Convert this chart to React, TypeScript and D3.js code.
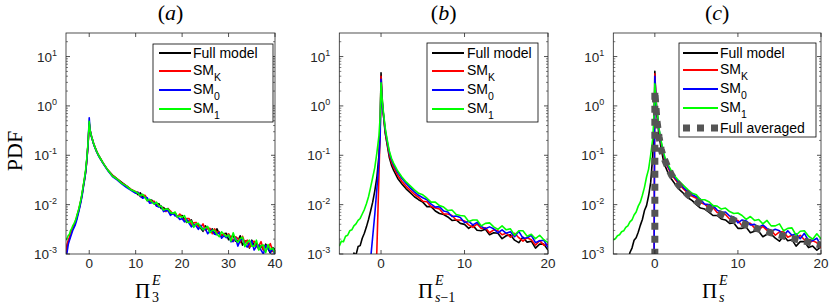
import React from "react";
import * as d3 from "d3";

// ---------------- data (PDF values stored as log10(PDF)) ----------------
const Y_TICK_VALUES = [1e-3, 1e-2, 1e-1, 1, 10];
const Y_TICK_EXPONENTS = ["-3", "-2", "-1", "0", "1"];
const X_TICKS_A = [0, 10, 20, 30, 40];
const X_TICKS_BC = [0, 10, 20];
const PANEL_TITLES = ["a", "b", "c"];
const LEGEND_MAIN = ["Full model", "SM", "SM", "SM", "Full averaged"];
const LEGEND_SUB = ["", "K", "0", "1", ""];

const X_A = [
  -5, -4.75, -4.5, -4.25, -4, -3.75, -3.5, -3.25, -3, -2.75, -2.5, -2.25, -2, -1.75, -1.5, -1.25, -1, -0.75, -0.5, -0.25, 0,
  0.15, 0.3, 0.5, 0.75, 1, 1.5, 2, 2.5, 3, 3.5, 4,
  5, 6, 7, 8, 9, 10,
  10.5, 11, 11.5, 12, 12.5, 13, 13.5, 14, 14.5, 15, 15.5, 16, 16.5, 17, 17.5, 18, 18.5, 19, 19.5, 20,
  20.5, 21, 21.5, 22, 22.5, 23, 23.5, 24, 24.5, 25, 25.5, 26, 26.5, 27, 27.5, 28, 28.5, 29, 29.5, 30,
  30.5, 31, 31.5, 32, 32.5, 33, 33.5, 34, 34.5, 35, 35.5, 36, 36.5, 37, 37.5, 38, 38.5, 39, 39.5, 40,
];
const A_FULL = [
  -3.02, -2.84, -2.74, -2.69, -2.6, -2.54, -2.47, -2.43, -2.36, -2.3, -2.2, -2.12, -2.01, -1.9, -1.77, -1.61, -1.47, -1.31, -1.07, -0.77, -0.35,
  -0.46, -0.55, -0.62, -0.7, -0.78, -0.9, -1.0, -1.08, -1.16, -1.23, -1.3,
  -1.4, -1.48, -1.55, -1.62, -1.69, -1.75,
  -1.8, -1.76, -1.84, -1.83, -1.92, -1.9, -1.91, -1.98, -2.0, -1.98, -2.08, -2.06, -2.1, -2.08, -2.17, -2.18, -2.17, -2.26, -2.22, -2.22,
  -2.3, -2.36, -2.33, -2.31, -2.44, -2.4, -2.4, -2.48, -2.54, -2.43, -2.48, -2.54, -2.49, -2.6, -2.49, -2.59, -2.64, -2.59, -2.58, -2.71,
  -2.66, -2.62, -2.74, -2.74, -2.63, -2.82, -2.74, -2.73, -2.88, -2.72, -2.83, -2.79, -2.9, -2.83, -2.91, -2.8, -2.89, -2.98, -2.87, -2.91,
];
const A_SMK = [
  -2.98, -2.8, -2.73, -2.66, -2.59, -2.52, -2.46, -2.41, -2.34, -2.27, -2.18, -2.1, -2.0, -1.9, -1.77, -1.62, -1.49, -1.33, -1.09, -0.78, -0.36,
  -0.46, -0.55, -0.62, -0.7, -0.78, -0.9, -1.0, -1.08, -1.16, -1.23, -1.3,
  -1.41, -1.48, -1.56, -1.62, -1.69, -1.74,
  -1.75, -1.84, -1.81, -1.81, -1.89, -1.94, -1.93, -1.93, -2.03, -2.02, -2.03, -2.09, -2.14, -2.09, -2.13, -2.19, -2.17, -2.25, -2.19, -2.27,
  -2.32, -2.28, -2.28, -2.42, -2.37, -2.36, -2.45, -2.46, -2.39, -2.52, -2.48, -2.48, -2.59, -2.49, -2.57, -2.55, -2.63, -2.59, -2.65, -2.59,
  -2.66, -2.75, -2.65, -2.69, -2.77, -2.64, -2.77, -2.72, -2.86, -2.77, -2.74, -2.85, -2.84, -2.75, -2.92, -2.83, -2.88, -2.79, -2.95, -2.94,
];
const A_SM0 = [
  -3.1, -2.95, -2.8, -2.72, -2.65, -2.58, -2.51, -2.46, -2.41, -2.33, -2.24, -2.14, -2.04, -1.93, -1.8, -1.64, -1.5, -1.33, -1.08, -0.78, -0.24,
  -0.45, -0.55, -0.63, -0.71, -0.79, -0.91, -1.01, -1.09, -1.17, -1.24, -1.31,
  -1.43, -1.5, -1.58, -1.65, -1.71, -1.77,
  -1.75, -1.83, -1.87, -1.85, -1.86, -1.97, -1.96, -1.96, -2.03, -2.05, -2.03, -2.14, -2.12, -2.13, -2.22, -2.17, -2.23, -2.23, -2.3, -2.28,
  -2.35, -2.3, -2.38, -2.45, -2.4, -2.43, -2.5, -2.42, -2.51, -2.48, -2.59, -2.53, -2.52, -2.6, -2.61, -2.56, -2.68, -2.63, -2.67, -2.61,
  -2.75, -2.74, -2.67, -2.84, -2.72, -2.69, -2.8, -2.86, -2.79, -2.74, -2.92, -2.84, -2.82, -2.92, -3.0, -2.83, -2.89, -2.96, -2.89, -3.02,
];
const A_SM1 = [
  -2.72, -2.68, -2.62, -2.6, -2.52, -2.48, -2.42, -2.38, -2.33, -2.25, -2.17, -2.09, -1.98, -1.88, -1.74, -1.6, -1.45, -1.28, -1.04, -0.74, -0.31,
  -0.47, -0.55, -0.62, -0.7, -0.78, -0.9, -1.0, -1.08, -1.16, -1.23, -1.3,
  -1.42, -1.48, -1.57, -1.62, -1.7, -1.74,
  -1.77, -1.82, -1.79, -1.85, -1.92, -1.89, -1.94, -1.99, -1.95, -2.03, -2.03, -2.11, -2.09, -2.09, -2.16, -2.18, -2.15, -2.25, -2.23, -2.26,
  -2.22, -2.35, -2.36, -2.33, -2.46, -2.39, -2.38, -2.46, -2.51, -2.47, -2.44, -2.57, -2.52, -2.52, -2.6, -2.65, -2.55, -2.6, -2.65, -2.61,
  -2.74, -2.57, -2.71, -2.76, -2.69, -2.66, -2.85, -2.76, -2.72, -2.84, -2.84, -2.72, -2.92, -2.83, -2.82, -2.97, -2.81, -2.91, -2.88, -2.98,
];

const X_BC = [
  -5, -4.75, -4.5, -4.25, -4, -3.75, -3.5, -3.25, -3, -2.75, -2.5, -2.25, -2, -1.75, -1.5, -1.25, -1, -0.75, -0.5, -0.25, -0.1, 0,
  0.1, 0.2, 0.35, 0.5, 0.75, 1, 1.25, 1.5, 2, 2.5, 3, 3.5, 4, 4.5,
  5, 5.5, 6, 6.5, 7, 7.5, 8, 8.5, 9, 9.5, 10, 10.5, 11, 11.5, 12, 12.5, 13, 13.5, 14, 14.5, 15, 15.5, 16, 16.5, 17, 17.5, 18, 18.5, 19, 19.5, 20,
];
const N = null;
const B_FULL = [
  N, N, N, N, N, N, -3.2, -2.98, -3.02, -2.85, -2.83, -2.68, -2.58, -2.45, -2.3, -2.13, -1.95, -1.72, -1.45, -1.0, -0.45, 0.67,
  0.25, 0.0, -0.3, -0.55, -0.8, -1.05, -1.2, -1.3, -1.47, -1.58, -1.68, -1.76, -1.84, -1.9,
  -1.95, -2.04, -2.04, -2.13, -2.18, -2.2, -2.25, -2.32, -2.31, -2.38, -2.4, -2.48, -2.42, -2.52, -2.53, -2.5, -2.61, -2.57, -2.58, -2.69,
  -2.63, -2.61, -2.72, -2.77, -2.66, -2.76, -2.74, -2.88, -2.8, -2.8, -2.92,
];
const B_SMK = [
  N, N, N, N, N, N, N, N, N, N, N, N, N, N, N, N, N, -4.0, -2.92, -1.4, -0.45, 0.6,
  0.2, -0.08, -0.28, -0.52, -0.77, -1.0, -1.14, -1.24, -1.41, -1.53, -1.63, -1.71, -1.79, -1.85,
  -1.93, -1.94, -2.04, -2.07, -2.09, -2.19, -2.19, -2.22, -2.31, -2.31, -2.33, -2.41, -2.46, -2.39, -2.48, -2.47, -2.57, -2.51, -2.53, -2.61,
  -2.58, -2.66, -2.58, -2.67, -2.74, -2.67, -2.71, -2.82, -2.73, -2.82, -2.8,
];
const B_SM0 = [
  N, N, N, N, N, N, N, N, N, N, N, N, N, N, -3.6, -3.1, -2.65, -2.2, -1.68, -1.1, -0.6, 0.54,
  0.15, -0.05, -0.25, -0.48, -0.73, -0.95, -1.09, -1.19, -1.35, -1.47, -1.57, -1.66, -1.74, -1.81,
  -1.86, -1.9, -1.99, -2.05, -2.04, -2.13, -2.15, -2.24, -2.23, -2.26, -2.36, -2.34, -2.41, -2.36, -2.44, -2.49, -2.45, -2.49, -2.57, -2.51,
  -2.58, -2.55, -2.65, -2.54, -2.68, -2.67, -2.62, -2.77, -2.73, -2.72, -2.87,
];
const B_SM1 = [
  -2.84, -2.74, -2.75, -2.64, -2.62, -2.53, -2.51, -2.43, -2.39, -2.32, -2.28, -2.19, -2.1, -1.98, -1.84, -1.65, -1.45, -1.25, -0.95, -0.6, -0.2, 0.47,
  0.2, 0.0, -0.22, -0.45, -0.7, -0.92, -1.06, -1.16, -1.32, -1.44, -1.54, -1.62, -1.7, -1.77,
  -1.8, -1.87, -1.95, -1.95, -2.02, -2.05, -2.12, -2.11, -2.2, -2.22, -2.23, -2.34, -2.31, -2.31, -2.43, -2.38, -2.37, -2.45, -2.5, -2.43,
  -2.51, -2.49, -2.62, -2.53, -2.53, -2.64, -2.6, -2.69, -2.62, -2.71, -2.77,
];

const C_FULL = [
  N, N, N, N, N, N, N, -3.15, -2.97, -2.88, -2.72, -2.67, -2.56, -2.42, -2.3, -2.12, -2.02, -1.82, -1.55, -1.0, -0.4, 0.7,
  0.2, -0.1, -0.35, -0.6, -0.85, -1.08, -1.22, -1.32, -1.48, -1.6, -1.7, -1.78, -1.86, -1.92,
  -2.0, -2.07, -2.09, -2.15, -2.22, -2.22, -2.29, -2.31, -2.38, -2.37, -2.48, -2.48, -2.46, -2.57, -2.54, -2.54, -2.65, -2.6, -2.6, -2.68,
  -2.74, -2.63, -2.73, -2.71, -2.84, -2.75, -2.75, -2.87, -2.84, -2.92, -2.85,
];
const C_SMK = [
  N, N, N, N, N, N, N, N, N, N, N, N, N, N, N, N, N, N, N, N, -3.4, 0.65,
  0.3, 0.0, -0.25, -0.5, -0.76, -0.98, -1.12, -1.22, -1.39, -1.5, -1.6, -1.69, -1.77, -1.83,
  -1.87, -1.96, -1.99, -2.07, -2.06, -2.16, -2.18, -2.2, -2.29, -2.29, -2.32, -2.43, -2.39, -2.38, -2.47, -2.51, -2.44, -2.52, -2.52, -2.62,
  -2.55, -2.55, -2.66, -2.62, -2.7, -2.62, -2.71, -2.79, -2.73, -2.77, -2.88,
];
const C_SM0 = [
  N, N, N, N, N, N, N, N, N, N, N, N, N, N, N, N, N, N, N, N, -3.5, 0.6,
  0.25, -0.02, -0.24, -0.47, -0.73, -0.95, -1.09, -1.19, -1.36, -1.47, -1.57, -1.66, -1.74, -1.8,
  -1.84, -1.89, -1.99, -2.0, -2.02, -2.11, -2.16, -2.15, -2.23, -2.25, -2.37, -2.31, -2.33, -2.41, -2.4, -2.46, -2.41, -2.48, -2.54, -2.5,
  -2.53, -2.63, -2.53, -2.62, -2.59, -2.69, -2.58, -2.73, -2.73, -2.68, -2.83,
];
const C_SM1 = [
  -2.72, -2.69, -2.63, -2.61, -2.55, -2.53, -2.46, -2.43, -2.35, -2.31, -2.21, -2.15, -2.03, -1.95, -1.81, -1.65, -1.44, -1.28, -0.99, -0.66, -0.2, 0.45,
  0.2, 0.0, -0.22, -0.45, -0.7, -0.92, -1.06, -1.16, -1.32, -1.44, -1.54, -1.62, -1.7, -1.77,
  -1.8, -1.9, -1.9, -1.94, -2.02, -2.03, -2.09, -2.07, -2.14, -2.18, -2.17, -2.22, -2.3, -2.24, -2.32, -2.3, -2.39, -2.32, -2.43, -2.43,
  -2.39, -2.53, -2.48, -2.47, -2.62, -2.54, -2.53, -2.64, -2.7, -2.59, -2.69,
];
const C_AVG_X = [0, 0, 0.25, 0.5, 0.75, 1, 1.5, 2, 2.5, 3, 4, 5, 6, 7, 8, 9, 10, 12, 14, 16, 18, 20];
const C_AVG = [-3.3, 0.3, -0.3, -0.62, -0.87, -1.02, -1.22, -1.4, -1.52, -1.63, -1.8, -1.93, -2.03, -2.12, -2.2, -2.28, -2.35, -2.47, -2.57, -2.66, -2.74, -2.82];

// ---------------- styles / layout ----------------
const COLORS = ["#000000", "#ff0000", "#0000ff", "#00ff00"];
const AVG_COLOR = "#555555";
const AXIS_COLOR = "#262626";
const SANS = "'Liberation Sans', Arial, Helvetica, sans-serif";
const SERIF = "'Liberation Serif', 'Times New Roman', serif";
const TOP = 33;
const BOTTOM = 254;

type PanelProps = {
  id: string;
  left: number;
  right: number;
  xDomain: [number, number];
  xTicks: number[];
  xs: number[];
  series: (number | null)[][];
  avg?: boolean;
  title: string;
  legend: { x: number; y: number; w: number; h: number; s1: number; s2: number; tx: number; rows: number[] };
  labelX: number;
  sub: React.ReactNode;
};

function Panel(p: PanelProps) {
  const x = d3.scaleLinear().domain(p.xDomain).range([p.left, p.right]);
  const y = d3.scaleLog().domain([1e-3, 30]).range([BOTTOM, TOP]);
  const line = d3
    .line<number | null>()
    .defined((v) => v !== null)
    .x((_, i) => x(p.xs[i]))
    .y((v) => y(Math.pow(10, v as number)));
  const avgLine = d3
    .line<number>()
    .x((_, i) => x(C_AVG_X[i]))
    .y((v) => y(Math.pow(10, v)));

  const minor: number[] = [];
  for (let d = -3; d <= 1; d++) {
    for (let k = 2; k <= 9; k++) {
      const v = k * Math.pow(10, d);
      if (v < 30) minor.push(v);
    }
  }
  const cx = (p.left + p.right) / 2;
  const L = p.legend;
  const nRows = p.avg ? 5 : 4;

  return (
    <g>
      <defs>
        <clipPath id={p.id}>
          <rect x={p.left} y={TOP} width={p.right - p.left} height={BOTTOM - TOP} />
        </clipPath>
      </defs>
      <g clipPath={`url(#${p.id})`}>
        {p.series.map((s, i) => (
          <path key={i} d={line(s) || ""} fill="none" stroke={COLORS[i]} strokeWidth={1.6} strokeLinejoin="round" />
        ))}
        {p.avg && (
          <path d={avgLine(C_AVG) || ""} fill="none" stroke={AVG_COLOR} strokeWidth={7} strokeDasharray="7 6" />
        )}
      </g>
      <rect x={p.left} y={TOP} width={p.right - p.left} height={BOTTOM - TOP} fill="none" stroke={AXIS_COLOR} strokeWidth={0.8} />
      {p.xTicks.map((t) => (
        <g key={t}>
          <line x1={x(t)} x2={x(t)} y1={BOTTOM} y2={BOTTOM - 4} stroke={AXIS_COLOR} strokeWidth={0.8} />
          <line x1={x(t)} x2={x(t)} y1={TOP} y2={TOP + 4} stroke={AXIS_COLOR} strokeWidth={0.8} />
          <text x={x(t)} y={BOTTOM + 14} textAnchor="middle" fontFamily={SANS} fontSize={13.5} fill={AXIS_COLOR}>
            {t}
          </text>
        </g>
      ))}
      {Y_TICK_VALUES.map((t, i) => (
        <g key={t}>
          <line x1={p.left} x2={p.left + 4} y1={y(t)} y2={y(t)} stroke={AXIS_COLOR} strokeWidth={0.8} />
          <line x1={p.right} x2={p.right - 4} y1={y(t)} y2={y(t)} stroke={AXIS_COLOR} strokeWidth={0.8} />
          <text x={p.left - 9} y={y(t) + 5} textAnchor="end" fontFamily={SANS} fontSize={13.5} fill={AXIS_COLOR}>
            10
            <tspan dy={-6} fontSize={9}>
              {Y_TICK_EXPONENTS[i]}
            </tspan>
          </text>
        </g>
      ))}
      {minor.map((t) => (
        <g key={"m" + t}>
          <line x1={p.left} x2={p.left + 2} y1={y(t)} y2={y(t)} stroke={AXIS_COLOR} strokeWidth={0.6} />
          <line x1={p.right} x2={p.right - 2} y1={y(t)} y2={y(t)} stroke={AXIS_COLOR} strokeWidth={0.6} />
        </g>
      ))}
      <text x={cx} y={20} textAnchor="middle" fontFamily={SERIF} fontSize={22} fill="#000">
        (<tspan fontStyle="italic">{p.title}</tspan>)
      </text>
      <text x={p.labelX} y={298} fontFamily={SERIF} fontSize={21} fill="#000">
        Π
      </text>
      <text x={p.labelX + 17} y={285} fontFamily={SERIF} fontStyle="italic" fontSize={14} fill="#000">
        E
      </text>
      <text x={p.labelX + 17} y={302} fontFamily={SERIF} fontSize={14} fill="#000">
        {p.sub}
      </text>
      <rect x={L.x} y={L.y} width={L.w} height={L.h} fill="#fff" stroke="#000" strokeWidth={0.8} />
      {Array.from({ length: nRows }).map((_, i) => {
        const ry = L.rows[i];
        const hasSub = LEGEND_SUB[i] !== "";
        return (
          <g key={i}>
            {i < 4 ? (
              <line x1={L.s1} x2={L.s2} y1={ry} y2={ry} stroke={COLORS[i]} strokeWidth={2} />
            ) : (
              <line x1={L.s1} x2={L.s2} y1={ry} y2={ry} stroke={AVG_COLOR} strokeWidth={7} strokeDasharray="7 7" />
            )}
            <text x={L.tx} y={ry + (hasSub ? 4 : 5)} fontFamily={SANS} fontSize={14} fill="#000">
              {LEGEND_MAIN[i]}
              {hasSub && (
                <tspan dy={5.5} fontSize={10.5}>
                  {LEGEND_SUB[i]}
                </tspan>
              )}
            </text>
          </g>
        );
      })}
    </g>
  );
}

export default function App() {
  return (
    <svg width={830} height={304} style={{ position: "absolute", left: 0, top: 0, background: "#fff" }}>
      <rect width={830} height={304} fill="#fff" />
      <text transform="translate(22,151) rotate(-90)" textAnchor="middle" fontFamily={SERIF} fontSize={22} fill="#000">
        PDF
      </text>
      <Panel
        id="clipA"
        left={66}
        right={275}
        xDomain={[-5, 40]}
        xTicks={X_TICKS_A}
        xs={X_A}
        series={[A_FULL, A_SMK, A_SM0, A_SM1]}
        title={PANEL_TITLES[0]}
        legend={{ x: 153, y: 44, w: 120, h: 78, s1: 159, s2: 191, tx: 193, rows: [53, 71, 90, 109] }}
        labelX={135}
        sub={"3"}
      />
      <Panel
        id="clipB"
        left={339.3}
        right={548}
        xDomain={[-5, 20]}
        xTicks={X_TICKS_BC}
        xs={X_BC}
        series={[B_FULL, B_SMK, B_SM0, B_SM1]}
        title={PANEL_TITLES[1]}
        legend={{ x: 427, y: 43, w: 111, h: 79, s1: 432, s2: 464, tx: 467, rows: [53, 71, 90, 109] }}
        labelX={418}
        sub={
          <>
            <tspan fontStyle="italic">s</tspan>−1
          </>
        }
      />
      <Panel
        id="clipC"
        left={613.3}
        right={821}
        xDomain={[-5, 20]}
        xTicks={X_TICKS_BC}
        xs={X_BC}
        series={[C_FULL, C_SMK, C_SM0, C_SM1]}
        avg
        title={PANEL_TITLES[2]}
        legend={{ x: 679, y: 43, w: 137, h: 94, s1: 683, s2: 718, tx: 720, rows: [53, 70, 89, 108, 128] }}
        labelX={702}
        sub={<tspan fontStyle="italic">s</tspan>}
      />
    </svg>
  );
}
